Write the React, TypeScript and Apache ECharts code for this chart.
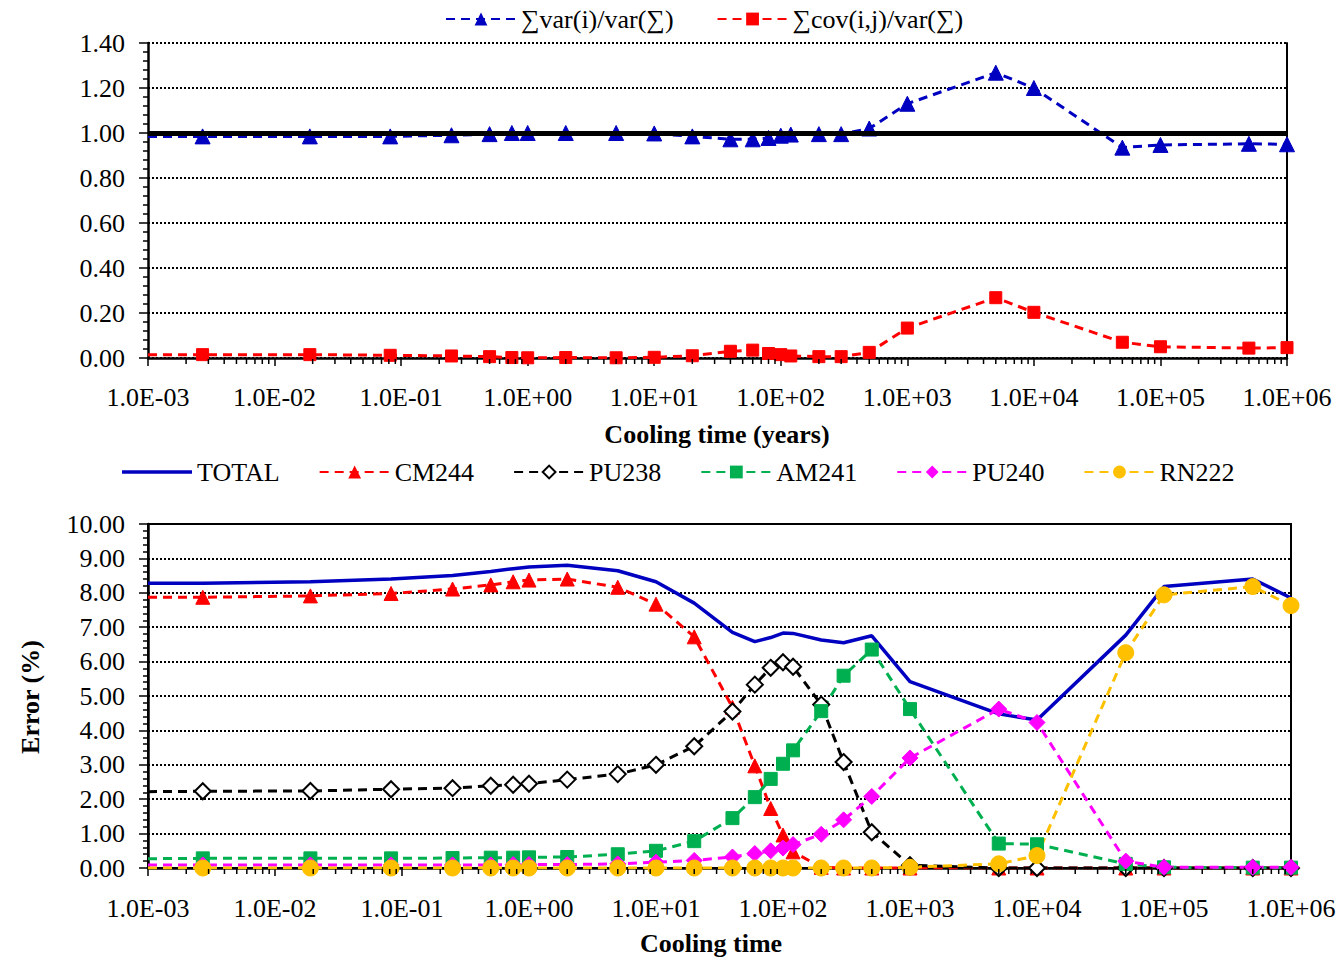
import React, { useEffect, useRef } from 'react';
import * as echarts from 'echarts';

// Cooling time (years)
const times = [0.001, 0.0027, 0.019, 0.082, 0.25, 0.5, 0.75, 1, 2, 5, 10, 20, 40, 60, 80, 100, 120, 200, 300, 500, 1000, 5000, 10000, 50000, 100000, 500000, 1000000];

// Top chart
const varRatio = [0.985, 0.985, 0.985, 0.985, 0.99, 0.995, 1.0, 1.0, 1.0, 1.0, 0.998, 0.985, 0.972, 0.972, 0.978, 0.988, 0.993, 0.995, 0.995, 1.02, 1.13, 1.268, 1.2, 0.935, 0.947, 0.952, 0.95];
const covRatio = [0.015, 0.015, 0.015, 0.012, 0.009, 0.006, 0.002, 0.001, 0.002, 0.001, 0.003, 0.01, 0.03, 0.035, 0.02, 0.015, 0.009, 0.006, 0.006, 0.025, 0.133, 0.268, 0.203, 0.07, 0.05, 0.044, 0.046];

// Bottom chart (Error %)
const total = [8.28, 8.28, 8.32, 8.40, 8.50, 8.62, 8.70, 8.75, 8.80, 8.64, 8.32, 7.70, 6.85, 6.58, 6.70, 6.83, 6.82, 6.63, 6.55, 6.75, 5.42, 4.48, 4.30, 6.77, 8.18, 8.40, 7.85];
const cm244 = [7.87, 7.87, 7.91, 7.98, 8.11, 8.23, 8.32, 8.37, 8.40, 8.16, 7.67, 6.72, 4.67, 2.97, 1.73, 0.96, 0.47, 0.02, 0.0, 0.0, 0.0, 0.0, 0.0, 0.0, 0.0, 0.0, 0.0];
const pu238 = [2.22, 2.23, 2.24, 2.29, 2.32, 2.39, 2.42, 2.45, 2.57, 2.73, 3.0, 3.54, 4.55, 5.33, 5.82, 5.98, 5.85, 4.75, 3.08, 1.04, 0.08, 0.0, 0.0, 0.0, 0.0, 0.0, 0.0];
const am241 = [0.27, 0.28, 0.28, 0.28, 0.29, 0.30, 0.30, 0.31, 0.32, 0.40, 0.50, 0.78, 1.45, 2.06, 2.59, 3.03, 3.42, 4.56, 5.59, 6.35, 4.62, 0.71, 0.69, 0.12, 0.02, 0.01, 0.01];
const pu240 = [0.09, 0.09, 0.09, 0.09, 0.09, 0.09, 0.10, 0.10, 0.10, 0.12, 0.17, 0.22, 0.32, 0.42, 0.5, 0.58, 0.68, 0.98, 1.4, 2.08, 3.2, 4.62, 4.23, 0.2, 0.02, 0.02, 0.02];
const rn222 = [0.0, 0.0, 0.0, 0.0, 0.0, 0.0, 0.0, 0.0, 0.0, 0.0, 0.0, 0.0, 0.0, 0.0, 0.0, 0.0, 0.0, 0.0, 0.0, 0.0, 0.02, 0.12, 0.36, 6.26, 7.94, 8.18, 7.63];

const topLegend = ['∑var(i)/var(∑)', '∑cov(i,j)/var(∑)'];
const bottomLegend = ['TOTAL', 'CM244', 'PU238', 'AM241', 'PU240', 'RN222'];

// axis decoration: log minor tick positions
const decadeStarts = [0.001, 0.01, 0.1, 1, 10, 100, 1000, 10000, 100000];
const minorMultipliers = [2, 3, 4, 5, 6, 7, 8, 9];
const minorTickPos = decadeStarts.flatMap((d) => minorMultipliers.map((m) => [d * m, 0]));

const FONT = 'Liberation Serif';
const FS = 26;

function fmtExp(v: number) {
  const e = Math.round(Math.log10(v));
  return '1.0E' + (e < 0 ? '-' : '+') + String(Math.abs(e)).padStart(2, '0');
}

function pairs(ys: number[]) {
  return ys.map((y, i) => {
    if (i === 0) return { value: [times[i], y], symbol: 'none' };
    return { value: [times[i], y] };
  });
}

const dash = [9, 6];

function dashedSeries(name: string, ys: number[], color: string, symbol: string, size: number, xi: number, yi: number, extra: any = {}) {
  return {
    name,
    type: 'line',
    xAxisIndex: xi,
    yAxisIndex: yi,
    data: pairs(ys),
    symbol,
    symbolSize: size,
    lineStyle: { color, width: 3, type: dash },
    itemStyle: { color, borderColor: color },
    ...extra,
  };
}

function minorTickSeries(xi: number, yi: number) {
  return {
    type: 'custom',
    xAxisIndex: xi,
    yAxisIndex: yi,
    data: minorTickPos,
    silent: true,
    clip: false,
    z: 5,
    renderItem: (params: any, api: any) => {
      const p = api.coord([api.value(0), 0]);
      return {
        type: 'line',
        shape: { x1: p[0], y1: p[1] + 1, x2: p[0], y2: p[1] + 6 },
        style: { stroke: '#000', lineWidth: 1.5 },
      };
    },
  };
}

const labelStyle = { fontFamily: FONT, fontSize: FS, color: '#000' };

function xAxisCfg(gi: number, margin: number) {
  return {
    type: 'log',
    logBase: 10,
    gridIndex: gi,
    min: 0.001,
    max: 1000000,
    interval: 1,
    axisLine: { show: true, lineStyle: { color: '#000', width: 2.5 } },
    axisTick: { show: true, length: 8, lineStyle: { color: '#000', width: 1.5 } },
    minorTick: { show: false },
    splitLine: { show: false },
    axisLabel: { ...labelStyle, margin, formatter: (v: number) => fmtExp(v) },
  };
}

function yAxisCfg(gi: number, max: number, interval: number) {
  return {
    type: 'value',
    gridIndex: gi,
    min: 0,
    max,
    interval,
    axisLine: { show: true, lineStyle: { color: '#000', width: 2.5 } },
    axisTick: { show: true, length: 9, lineStyle: { color: '#000', width: 1.5 } },
    minorTick: { show: true, splitNumber: 5, length: 5, lineStyle: { color: '#000', width: 1.5 } },
    splitLine: { show: true, lineStyle: { color: '#000', width: 2, type: [2, 2] } },
    axisLabel: { ...labelStyle, margin: 23, formatter: (v: number) => v.toFixed(2) },
  };
}

const titleStyle = { fontFamily: FONT, fontSize: FS, fontWeight: 'bold', fill: '#000', textAlign: 'center', textVerticalAlign: 'middle' };

export default function App() {
  const ref = useRef<HTMLDivElement>(null);
  useEffect(() => {
    if (!ref.current) return;
    const chart = echarts.init(ref.current, undefined, { renderer: 'svg' });
    const option: any = {
      animation: false,
      backgroundColor: '#fff',
      textStyle: { fontFamily: FONT },
      grid: [
        { left: 148, right: 52, top: 43, height: 315, containLabel: false },
        { left: 148, right: 48, top: 524, height: 344, containLabel: false, show: true, borderColor: '#000', borderWidth: 2, backgroundColor: 'transparent' },
      ],
      legend: [
        {
          data: topLegend,
          left: 445,
          top: 6,
          padding: 0,
          itemWidth: 70,
          itemHeight: 16,
          itemGap: 43,
          textStyle: { fontFamily: FONT, fontSize: FS, color: '#000' },
        },
        {
          data: [
            { name: bottomLegend[0], icon: 'path://M0,0 H70 V3.5 H0 Z' },
            bottomLegend[1],
            bottomLegend[2],
            bottomLegend[3],
            bottomLegend[4],
            bottomLegend[5],
          ],
          left: 122,
          top: 459,
          padding: 0,
          itemWidth: 70,
          itemHeight: 16,
          itemGap: 39,
          textStyle: { fontFamily: FONT, fontSize: FS, color: '#000' },
        },
      ],
      xAxis: [xAxisCfg(0, 26), xAxisCfg(1, 27)],
      yAxis: [
        yAxisCfg(0, 1.4, 0.2),
        yAxisCfg(1, 10, 1),
        {
          type: 'value',
          gridIndex: 0,
          position: 'right',
          min: 0,
          max: 1.4,
          axisLine: { show: true, lineStyle: { color: '#000', width: 2 } },
          axisTick: { show: false },
          axisLabel: { show: false },
          splitLine: { show: false },
        },
      ],
      graphic: [
        { type: 'text', x: 717, y: 434, style: { ...titleStyle, text: 'Cooling time (years)' } },
        { type: 'text', x: 711, y: 943, style: { ...titleStyle, text: 'Cooling time' } },
        { type: 'text', x: 30, y: 697, rotation: Math.PI / 2, style: { ...titleStyle, text: 'Error (%)' } },
      ],
      series: [
        minorTickSeries(0, 0),
        minorTickSeries(1, 1),
        dashedSeries(topLegend[0], varRatio, '#0000C0', 'triangle', 15, 0, 0, {
          markLine: {
            silent: true,
            symbol: 'none',
            label: { show: false },
            lineStyle: { color: '#000', width: 5, type: 'solid' },
            data: [{ yAxis: 1 }],
          },
        }),
        dashedSeries(topLegend[1], covRatio, '#FF0000', 'rect', 12, 0, 0),
        {
          name: bottomLegend[0],
          type: 'line',
          xAxisIndex: 1,
          yAxisIndex: 1,
          data: pairs(total),
          symbol: 'none',
          showSymbol: false,
          lineStyle: { color: '#0000C0', width: 3.5, type: 'solid' },
          itemStyle: { color: '#0000C0' },
        },
        dashedSeries(bottomLegend[1], cm244, '#FF0000', 'triangle', 14, 1, 1),
        dashedSeries(bottomLegend[2], pu238, '#000000', 'emptyDiamond', 16, 1, 1, {
          itemStyle: { color: '#000', borderColor: '#000', borderWidth: 1.5 },
        }),
        dashedSeries(bottomLegend[3], am241, '#00B050', 'rect', 13, 1, 1),
        dashedSeries(bottomLegend[4], pu240, '#FF00FF', 'diamond', 16, 1, 1),
        dashedSeries(bottomLegend[5], rn222, '#FFC000', 'circle', 16, 1, 1),
      ],
    };
    chart.setOption(option);
    return () => chart.dispose();
  }, []);
  return <div ref={ref} style={{ position: 'absolute', left: 0, top: 0, width: 1339, height: 957 }} />;
}
